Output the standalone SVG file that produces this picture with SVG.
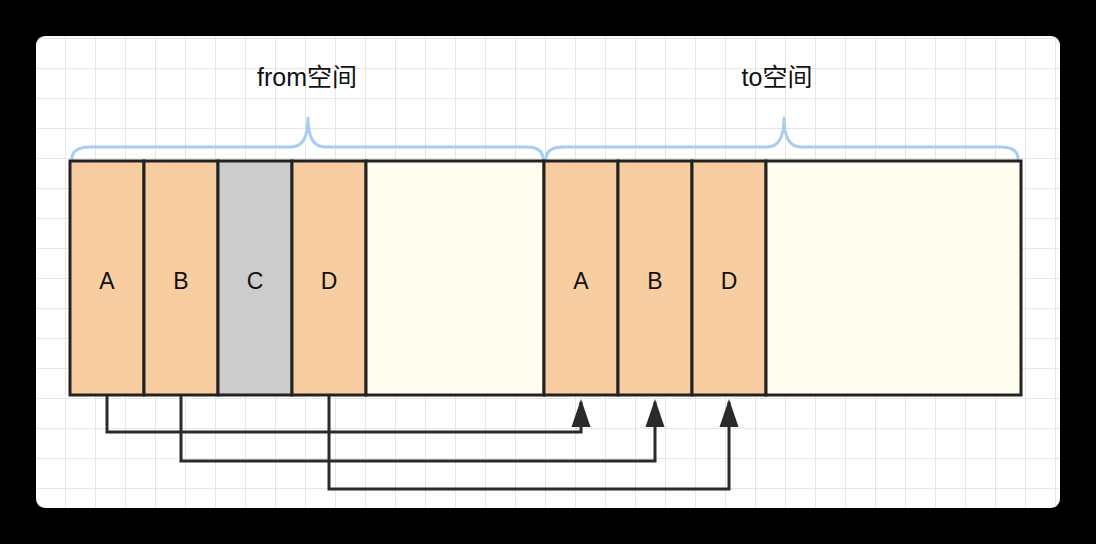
<svg xmlns="http://www.w3.org/2000/svg" width="1096" height="544" viewBox="0 0 1096 544">
  <defs>
    <pattern id="grid" x="5" y="8" width="30" height="30" patternUnits="userSpaceOnUse">
      <path d="M0.5,0 V30 M0,0.5 H30" fill="none" stroke="#e6e6e6" stroke-width="1"/>
    </pattern>
    <marker id="arrow" markerUnits="userSpaceOnUse" markerWidth="20" markerHeight="30" viewBox="0 0 20 30" refX="10" refY="5" orient="0" overflow="visible">
      <path d="M10,2 L19.5,30 L0.5,30 Z" fill="#2a2a2a"/>
    </marker>
    <style>
      .cell { stroke: #222; stroke-width: 3; }
      .orange { fill: #f8cda1; }
      .gray { fill: #cccccc; }
      .cream { fill: #fffdf0; }
      .lbl { font-family: "Liberation Sans", Arial, sans-serif; font-size: 23px; fill: #111; text-anchor: middle; }
      .title { font-family: "Liberation Sans", "Noto Sans CJK SC", sans-serif; font-size: 25px; fill: #111; text-anchor: middle; }
      .brace { fill: none; stroke: #a8cdf4; stroke-width: 3; stroke-linecap: round; stroke-linejoin: round; }
      .conn { fill: none; stroke: #2a2a2a; stroke-width: 3; stroke-linejoin: miter; }
    </style>
  </defs>
  <rect x="0" y="0" width="1096" height="544" fill="#000"/>
  <rect x="36" y="36" width="1024" height="472" rx="9" fill="#fff"/>
  <rect x="36" y="36" width="1024" height="472" rx="9" fill="url(#grid)"/>

  <g id="braces">
    <path class="brace" d="M72,159 Q72,147 90,147 L291,147 Q308,147 308,118 Q308,147 325,147 L526,147 Q543,147 543,159"/>
    <path class="brace" d="M546,159 Q546,147 564,147 L767,147 Q784,147 784,118 Q784,147 801,147 L1001,147 Q1018,147 1018,159"/>
  </g>
  <g id="title-from"><text class="title" x="307" y="86">from空间</text></g>
  <g id="title-to"><text class="title" x="777" y="86">to空间</text></g>

  <g id="from-A"><rect class="cell orange" x="70" y="161" width="74" height="234"/><text class="lbl" x="107" y="289">A</text></g>
  <g id="from-B"><rect class="cell orange" x="144" y="161" width="74" height="234"/><text class="lbl" x="181" y="289">B</text></g>
  <g id="from-C"><rect class="cell gray" x="218" y="161" width="74" height="234"/><text class="lbl" x="255" y="289">C</text></g>
  <g id="from-D"><rect class="cell orange" x="292" y="161" width="74" height="234"/><text class="lbl" x="329" y="289">D</text></g>
  <g id="from-free"><rect class="cell cream" x="366" y="161" width="178" height="234"/></g>
  <g id="to-A"><rect class="cell orange" x="544" y="161" width="74" height="234"/><text class="lbl" x="581" y="289">A</text></g>
  <g id="to-B"><rect class="cell orange" x="618" y="161" width="74" height="234"/><text class="lbl" x="655" y="289">B</text></g>
  <g id="to-D"><rect class="cell orange" x="692" y="161" width="74" height="234"/><text class="lbl" x="729" y="289">D</text></g>
  <g id="to-free"><rect class="cell cream" x="766" y="161" width="255" height="234"/></g>

  <g id="connectors">
    <path class="conn" d="M107,396 V432 H581 V402" marker-end="url(#arrow)"/>
    <path class="conn" d="M181,396 V461 H655 V402" marker-end="url(#arrow)"/>
    <path class="conn" d="M329,396 V489 H729 V402" marker-end="url(#arrow)"/>
  </g>
</svg>
